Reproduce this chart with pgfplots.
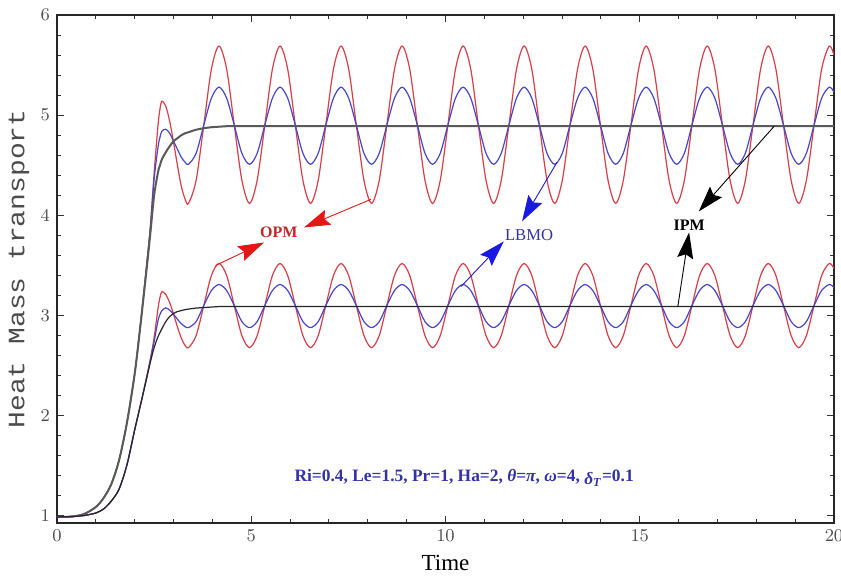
\documentclass[border=0pt]{standalone}
\usepackage{fontspec}
\setmainfont{Liberation Serif}
\setmonofont{Liberation Mono}
\usepackage{pgfplots}
\pgfplotsset{compat=1.18}
\usepackage{pgfplotstable}
\usetikzlibrary{arrows.meta}

\definecolor{cred}{RGB}{214,62,72}
\definecolor{cblue}{RGB}{70,70,200}
\definecolor{ared}{RGB}{228,22,22}
\definecolor{ablue}{RGB}{25,25,225}
\definecolor{tred}{RGB}{190,40,40}
\definecolor{tblue}{RGB}{50,50,165}

% upper group: t, red, blue, black
\pgfplotstableread{
t red blue black
0 0.99 0.99 0.99
0.4 0.995 0.995 0.995
0.7 1.02 1.02 1.02
1.0 1.09 1.09 1.09
1.2 1.18 1.18 1.18
1.4 1.32 1.32 1.32
1.6 1.56 1.56 1.56
1.8 1.93 1.93 1.93
2.0 2.42 2.42 2.42
2.15 2.92 2.92 2.91
2.3 3.48 3.47 3.44
2.4 3.88 3.86 3.81
2.5 4.42 4.36 4.20
2.6 4.90 4.68 4.43
2.65 5.06 4.78 4.50
2.7 5.14 4.84 4.56
2.8 5.09 4.86 4.63
2.9 4.94 4.82 4.69
3.0 4.73 4.74 4.74
3.1 4.50 4.66 4.77
3.2 4.29 4.58 4.80
3.3 4.16 4.53 4.82
3.385 4.12 4.51 4.83
3.581 4.35 4.62 4.855
3.778 4.90 4.90 4.87
3.974 5.46 5.17 4.88
4.170 5.69 5.28 4.885
4.367 5.46 5.17 4.89
4.563 4.90 4.90 4.89
4.759 4.35 4.62 4.89
4.956 4.12 4.51 4.89
5.152 4.35 4.62 4.89
5.349 4.90 4.90 4.89
5.545 5.46 5.17 4.89
5.741 5.69 5.28 4.89
5.938 5.46 5.17 4.89
6.134 4.90 4.90 4.89
6.330 4.35 4.62 4.89
6.527 4.12 4.51 4.89
6.723 4.35 4.62 4.89
6.919 4.90 4.90 4.89
7.116 5.46 5.17 4.89
7.312 5.69 5.28 4.89
7.508 5.46 5.17 4.89
7.705 4.90 4.90 4.89
7.901 4.35 4.62 4.89
8.097 4.12 4.51 4.89
8.294 4.35 4.62 4.89
8.490 4.90 4.90 4.89
8.687 5.46 5.17 4.89
8.883 5.69 5.28 4.89
9.079 5.46 5.17 4.89
9.276 4.90 4.90 4.89
9.472 4.35 4.62 4.89
9.668 4.12 4.51 4.89
9.865 4.35 4.62 4.89
10.061 4.90 4.90 4.89
10.257 5.46 5.17 4.89
10.454 5.69 5.28 4.89
10.650 5.46 5.17 4.89
10.846 4.90 4.90 4.89
11.043 4.35 4.62 4.89
11.239 4.12 4.51 4.89
11.435 4.35 4.62 4.89
11.632 4.90 4.90 4.89
11.828 5.46 5.17 4.89
12.024 5.69 5.28 4.89
12.221 5.46 5.17 4.89
12.417 4.90 4.90 4.89
12.613 4.35 4.62 4.89
12.810 4.12 4.51 4.89
13.006 4.35 4.62 4.89
13.203 4.90 4.90 4.89
13.399 5.46 5.17 4.89
13.595 5.69 5.28 4.89
13.792 5.46 5.17 4.89
13.988 4.90 4.90 4.89
14.184 4.35 4.62 4.89
14.381 4.12 4.51 4.89
14.577 4.35 4.62 4.89
14.773 4.90 4.90 4.89
14.970 5.46 5.17 4.89
15.166 5.69 5.28 4.89
15.362 5.46 5.17 4.89
15.559 4.90 4.90 4.89
15.755 4.35 4.62 4.89
15.951 4.12 4.51 4.89
16.148 4.35 4.62 4.89
16.344 4.90 4.90 4.89
16.540 5.46 5.17 4.89
16.737 5.69 5.28 4.89
16.933 5.46 5.17 4.89
17.129 4.90 4.90 4.89
17.326 4.35 4.62 4.89
17.522 4.12 4.51 4.89
17.718 4.35 4.62 4.89
17.915 4.90 4.90 4.89
18.111 5.46 5.17 4.89
18.308 5.69 5.28 4.89
18.504 5.46 5.17 4.89
18.700 4.90 4.90 4.89
18.897 4.35 4.62 4.89
19.093 4.12 4.51 4.89
19.289 4.35 4.62 4.89
19.486 4.90 4.90 4.89
19.682 5.46 5.17 4.89
19.878 5.69 5.28 4.89
20.000 5.60 5.23 4.89
}\upperdata

% lower group: t, red, blue, black
\pgfplotstableread{
t red blue black
0 0.99 0.99 0.99
0.4 0.995 0.995 0.995
0.7 1.005 1.005 1.005
1.0 1.03 1.03 1.03
1.2 1.07 1.07 1.07
1.4 1.15 1.15 1.15
1.6 1.27 1.27 1.27
1.8 1.51 1.51 1.51
2.0 1.86 1.86 1.86
2.15 2.11 2.11 2.11
2.3 2.37 2.37 2.36
2.4 2.56 2.55 2.53
2.5 2.78 2.74 2.68
2.6 3.07 2.95 2.79
2.65 3.18 3.01 2.83
2.7 3.24 3.05 2.87
2.8 3.21 3.077 2.94
2.9 3.13 3.054 2.99
3.0 3.015 3.013 3.02
3.1 2.887 2.964 3.04
3.2 2.775 2.919 3.05
3.3 2.70 2.889 3.06
3.385 2.68 2.88 3.065
3.581 2.80 2.94 3.075
3.778 3.10 3.10 3.08
3.974 3.40 3.25 3.085
4.170 3.52 3.31 3.09
4.367 3.40 3.25 3.09
4.563 3.10 3.10 3.09
4.759 2.80 2.94 3.09
4.956 2.68 2.88 3.09
5.152 2.80 2.94 3.09
5.349 3.10 3.10 3.09
5.545 3.40 3.25 3.09
5.741 3.52 3.31 3.09
5.938 3.40 3.25 3.09
6.134 3.10 3.10 3.09
6.330 2.80 2.94 3.09
6.527 2.68 2.88 3.09
6.723 2.80 2.94 3.09
6.919 3.10 3.10 3.09
7.116 3.40 3.25 3.09
7.312 3.52 3.31 3.09
7.508 3.40 3.25 3.09
7.705 3.10 3.10 3.09
7.901 2.80 2.94 3.09
8.097 2.68 2.88 3.09
8.294 2.80 2.94 3.09
8.490 3.10 3.10 3.09
8.687 3.40 3.25 3.09
8.883 3.52 3.31 3.09
9.079 3.40 3.25 3.09
9.276 3.10 3.10 3.09
9.472 2.80 2.94 3.09
9.668 2.68 2.88 3.09
9.865 2.80 2.94 3.09
10.061 3.10 3.10 3.09
10.257 3.40 3.25 3.09
10.454 3.52 3.31 3.09
10.650 3.40 3.25 3.09
10.846 3.10 3.10 3.09
11.043 2.80 2.94 3.09
11.239 2.68 2.88 3.09
11.435 2.80 2.94 3.09
11.632 3.10 3.10 3.09
11.828 3.40 3.25 3.09
12.024 3.52 3.31 3.09
12.221 3.40 3.25 3.09
12.417 3.10 3.10 3.09
12.613 2.80 2.94 3.09
12.810 2.68 2.88 3.09
13.006 2.80 2.94 3.09
13.203 3.10 3.10 3.09
13.399 3.40 3.25 3.09
13.595 3.52 3.31 3.09
13.792 3.40 3.25 3.09
13.988 3.10 3.10 3.09
14.184 2.80 2.94 3.09
14.381 2.68 2.88 3.09
14.577 2.80 2.94 3.09
14.773 3.10 3.10 3.09
14.970 3.40 3.25 3.09
15.166 3.52 3.31 3.09
15.362 3.40 3.25 3.09
15.559 3.10 3.10 3.09
15.755 2.80 2.94 3.09
15.951 2.68 2.88 3.09
16.148 2.80 2.94 3.09
16.344 3.10 3.10 3.09
16.540 3.40 3.25 3.09
16.737 3.52 3.31 3.09
16.933 3.40 3.25 3.09
17.129 3.10 3.10 3.09
17.326 2.80 2.94 3.09
17.522 2.68 2.88 3.09
17.718 2.80 2.94 3.09
17.915 3.10 3.10 3.09
18.111 3.40 3.25 3.09
18.308 3.52 3.31 3.09
18.504 3.40 3.25 3.09
18.700 3.10 3.10 3.09
18.897 2.80 2.94 3.09
19.093 2.68 2.88 3.09
19.289 2.80 2.94 3.09
19.486 3.10 3.10 3.09
19.682 3.40 3.25 3.09
19.878 3.52 3.31 3.09
20.000 3.47 3.28 3.09
}\lowerdata

\tikzset{ann/.style={line width=0.45pt, -{Stealth[length=13pt,width=8pt,inset=2pt]}}}

\begin{document}
\begin{tikzpicture}
\begin{axis}[
    scale only axis, width=388.5pt, height=254pt,
    xmin=0, xmax=20, ymin=0.93, ymax=6,
    xtick={0,5,10,15,20}, ytick={1,2,3,4,5,6},
    minor x tick num=4, minor y tick num=4,
    tick align=inside, major tick length=3.5pt, minor tick length=2pt,
    tick style={black!80, line width=0.5pt},
    axis line style={black!85, line width=0.6pt},
    ticklabel style={font=\fontsize{9}{10}\selectfont, text=black!70},
    xlabel={Time}, ylabel={\scalebox{1.19}[1]{\ttfamily\fontsize{11.75}{13}\selectfont Heat Mass transport}},
    every axis x label/.style={at={(axis description cs:0.5,0)}, anchor=center, yshift=-20pt, font=\fontsize{11.5}{13}\selectfont},
    every axis y label/.style={at={([xshift=-19pt]axis description cs:0,0.5)}, anchor=center, rotate=90, text=black!70},
]
\addplot[cred, line width=0.6pt, smooth] table[x=t, y=red] {\upperdata};
\addplot[cblue, line width=0.6pt, smooth] table[x=t, y=blue] {\upperdata};
\addplot[black!65, line width=1pt, smooth] table[x=t, y=black] {\upperdata};
\addplot[cred, line width=0.6pt, smooth] table[x=t, y=red] {\lowerdata};
\addplot[cblue, line width=0.6pt, smooth] table[x=t, y=blue] {\lowerdata};
\addplot[black!85, line width=0.6pt, smooth] table[x=t, y=black] {\lowerdata};

\draw[ann, color=ared] (axis cs:8.08,4.16) -- (axis cs:6.36,3.88);
\draw[ann, color=ared] (axis cs:4.08,3.50) -- (axis cs:5.33,3.73);
\draw[ann, color=ablue] (axis cs:12.87,4.53) -- (axis cs:11.97,3.94);
\draw[ann, color=ablue] (axis cs:10.40,3.29) -- (axis cs:11.50,3.74);
\draw[ann, color=black] (axis cs:18.46,4.89) -- (axis cs:16.52,4.04);
\draw[ann, color=black] (axis cs:15.98,3.09) -- (axis cs:16.27,3.83);

\node[text=tred, font=\bfseries\fontsize{8}{9}\selectfont] at (axis cs:5.71,3.83) {OPM};
\node[text=tblue, font=\fontsize{8.3}{9}\selectfont] at (axis cs:12.15,3.80) {LBMO};
\node[font=\bfseries\fontsize{8}{9}\selectfont] at (axis cs:16.27,3.90) {IPM};
\node[text=tblue, font=\bfseries\fontsize{8.7}{10}\selectfont] at (axis cs:10.48,1.38)
    {Ri=0.4, Le=1.5, Pr=1, Ha=2, \textit{θ}=\textit{π}, \textit{ω}=4, \raisebox{-1.5pt}{\textit{δ}\textsubscript{\textit{T}}}=0.1};
\end{axis}
\pgfresetboundingbox
\path ([shift={(-28.5pt,-28pt)}]current axis.south west) rectangle ([shift={(3.5pt,7.5pt)}]current axis.north east);
\end{tikzpicture}
\end{document}
